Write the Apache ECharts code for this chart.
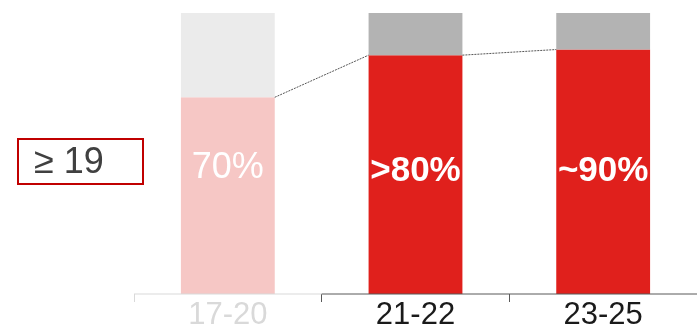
<!DOCTYPE html>
<html>
<head>
<meta charset="utf-8">
<script src="https://cdn.jsdelivr.net/npm/echarts@6/dist/echarts.min.js"></script>
<style>
html,body{margin:0;padding:0;background:#fff;}
#chart{width:697px;height:331px;}
</style>
</head>
<body>
<div id="chart"></div>
<script>
const categories = ['17-20', '21-22', '23-25'];
const shareValues = [70, 85, 87];
const remainderValues = [30, 15, 13];
const valueLabels = ['70%', '>80%', '~90%'];
const boxLabel = '≥ 19';
const fadedIndex = 0;

const FONT = '"Liberation Sans", Arial, sans-serif';
const RED = '#e0201c', PINK = '#f6c7c5', GRAY = '#b3b3b3', LIGHTGRAY = '#ebebeb';
const AXIS_DARK = '#595959', AXIS_LIGHT = '#d9d9d9';

const chart = echarts.init(document.getElementById('chart'), null, {renderer: 'canvas'});

const shareData = shareValues.map((v, i) => ({
  value: v,
  itemStyle: {color: i === fadedIndex ? PINK : RED},
  label: {
    show: true,
    formatter: valueLabels[i],
    position: 'insideBottom',
    distance: i === fadedIndex ? 108 : 105,
    color: '#ffffff',
    fontFamily: FONT,
    fontSize: i === fadedIndex ? 36 : 35,
    fontWeight: i === fadedIndex ? 'normal' : 'bold'
  }
}));
const restData = remainderValues.map((v, i) => ({
  value: v,
  itemStyle: {color: i === fadedIndex ? LIGHTGRAY : GRAY}
}));

const series = [
  {type: 'bar', name: 'share', stack: 's', barWidth: '50%', data: shareData, xAxisIndex: 0, yAxisIndex: 0, z: 2},
  {type: 'bar', name: 'rest', stack: 's', barWidth: '50%', data: restData, xAxisIndex: 0, yAxisIndex: 0, z: 2}
];
// connector dotted lines between bar tops (right edge of bar i to left edge of bar i+1)
for (let i = 0; i < shareValues.length - 1; i++) {
  series.push({
    type: 'line', xAxisIndex: 1, yAxisIndex: 0, symbol: 'none', silent: true, clip: false, z: 3,
    lineStyle: {color: '#555555', width: 1, type: [2, 1]},
    data: [[i + 0.75, shareValues[i]], [i + 1.25, shareValues[i + 1]]]
  });
}
// baseline: faded segment under first category, dark for the rest
series.push({
  type: 'line', xAxisIndex: 1, yAxisIndex: 0, symbol: 'none', silent: true, clip: false, z: 4,
  lineStyle: {color: AXIS_LIGHT, width: 1},
  data: [[fadedIndex, 0], [fadedIndex + 1, 0]]
});
series.push({
  type: 'line', xAxisIndex: 1, yAxisIndex: 0, symbol: 'none', silent: true, clip: false, z: 4,
  lineStyle: {color: AXIS_DARK, width: 1},
  data: [[fadedIndex + 1, 0], [categories.length, 0]]
});

const option = {
  animation: false,
  grid: {left: 134, right: 0, top: 13, bottom: 34},
  xAxis: [
    {
      type: 'category',
      data: categories.map((c, i) => ({value: c, textStyle: {color: i === fadedIndex ? AXIS_LIGHT : '#1a1a1a'}})),
      position: 'bottom',
      offset: 0,
      axisLine: {show: false},
      axisTick: {show: true, length: 8, lineStyle: {color: AXIS_DARK, width: 1},
        interval: function (index) { return index > fadedIndex && index < categories.length; }},
      axisLabel: {fontFamily: FONT, fontSize: 31, margin: 6, interval: 0}
    },
    {
      type: 'value',
      min: 0, max: categories.length,
      position: 'bottom',
      offset: 0,
      axisLine: {show: false},
      axisTick: {show: true, length: 8, customValues: [fadedIndex], lineStyle: {color: AXIS_LIGHT, width: 1}},
      axisLabel: {show: false},
      splitLine: {show: false}
    }
  ],
  yAxis: {type: 'value', min: 0, max: 100, show: false},
  graphic: [
    {
      type: 'rect', left: 17, top: 138,
      shape: {width: 125, height: 45},
      style: {fill: '#ffffff', stroke: '#c00000', lineWidth: 2}
    },
    {
      type: 'text', left: 34, top: 145,
      style: {text: boxLabel, fill: '#404040', font: '36px ' + FONT}
    }
  ],
  series: series
};
chart.setOption(option);
</script>
</body>
</html>
